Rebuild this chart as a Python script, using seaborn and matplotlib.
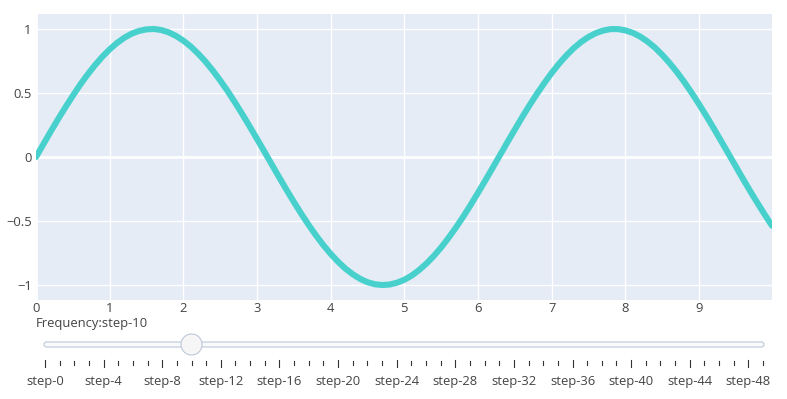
import matplotlib
matplotlib.use("Agg")
import matplotlib.pyplot as plt
import seaborn as sns
import pandas as pd
from matplotlib.patches import FancyBboxPatch, Circle

# ---- data ----
x_vals = [0.0, 0.1, 0.2, 0.3, 0.4, 0.5, 0.6, 0.7, 0.8, 0.9,
          1.0, 1.1, 1.2, 1.3, 1.4, 1.5, 1.6, 1.7, 1.8, 1.9,
          2.0, 2.1, 2.2, 2.3, 2.4, 2.5, 2.6, 2.7, 2.8, 2.9,
          3.0, 3.1, 3.2, 3.3, 3.4, 3.5, 3.6, 3.7, 3.8, 3.9,
          4.0, 4.1, 4.2, 4.3, 4.4, 4.5, 4.6, 4.7, 4.8, 4.9,
          5.0, 5.1, 5.2, 5.3, 5.4, 5.5, 5.6, 5.7, 5.8, 5.9,
          6.0, 6.1, 6.2, 6.3, 6.4, 6.5, 6.6, 6.7, 6.8, 6.9,
          7.0, 7.1, 7.2, 7.3, 7.4, 7.5, 7.6, 7.7, 7.8, 7.9,
          8.0, 8.1, 8.2, 8.3, 8.4, 8.5, 8.6, 8.7, 8.8, 8.9,
          9.0, 9.1, 9.2, 9.3, 9.4, 9.5, 9.6, 9.7, 9.8, 9.9, 9.99]
y_vals = [0.000, 0.100, 0.199, 0.296, 0.389, 0.479, 0.565, 0.644, 0.717, 0.783,
          0.841, 0.891, 0.932, 0.964, 0.985, 0.997, 1.000, 0.992, 0.974, 0.946,
          0.909, 0.863, 0.808, 0.746, 0.675, 0.598, 0.516, 0.427, 0.335, 0.239,
          0.141, 0.042, -0.058, -0.158, -0.256, -0.351, -0.443, -0.530, -0.612, -0.688,
          -0.757, -0.818, -0.872, -0.916, -0.952, -0.978, -0.994, -1.000, -0.996, -0.982,
          -0.959, -0.926, -0.883, -0.832, -0.773, -0.706, -0.631, -0.551, -0.465, -0.374,
          -0.279, -0.182, -0.083, 0.017, 0.117, 0.215, 0.312, 0.405, 0.494, 0.578,
          0.657, 0.729, 0.794, 0.851, 0.899, 0.938, 0.968, 0.988, 0.999, 0.999,
          0.989, 0.970, 0.941, 0.902, 0.855, 0.798, 0.734, 0.663, 0.585, 0.501,
          0.412, 0.319, 0.223, 0.124, 0.025, -0.075, -0.175, -0.272, -0.366, -0.458, -0.537]
x_ticks = [0, 1, 2, 3, 4, 5, 6, 7, 8, 9]
y_ticks = [-1, -0.5, 0, 0.5, 1]
y_tick_labels = ["\u22121", "\u22120.5", "0", "0.5", "1"]
step_names = [f"step-{i}" for i in range(50)]
active_step = 10
slider_prefix = "Frequency:"

plt.rcParams['font.family'] = ['Open Sans', 'DejaVu Sans']
FS = 9.4
W, H = 787, 399
fig = plt.figure(figsize=(W / 100, H / 100), dpi=100)
fig.patch.set_facecolor("white")

# main axes in pixel placement
L, R, T, B = 36, 772, 14, 300
ax = fig.add_axes([L / W, 1 - B / H, (R - L) / W, (B - T) / H])
ax.set_facecolor("#E5ECF6")
df = pd.DataFrame({"x": x_vals, "y": y_vals})
sns.lineplot(data=df, x="x", y="y", ax=ax, color="#48D1CC", linewidth=4.4,
             solid_capstyle="round", solid_joinstyle="round", zorder=5)
ax.set_xlim(0, 9.99)
ax.set_ylim(-1.117, 1.117)
ax.set_xticks(x_ticks)
ax.set_yticks(y_ticks)
ax.set_yticklabels(y_tick_labels)
ax.grid(True, color="white", linewidth=1.0, zorder=0)
ax.set_axisbelow(True)
ax.axhline(0, color="white", linewidth=2.0, zorder=1)
ax.axvline(0, color="white", linewidth=2.0, zorder=1)
for s in ax.spines.values():
    s.set_visible(False)
ax.tick_params(axis="both", length=0, labelsize=FS, labelcolor="#444444")
ax.tick_params(axis="y", pad=3)
ax.tick_params(axis="x", pad=1.5)
ax.set_xlabel("")
ax.set_ylabel("")

# slider drawn in pixel coordinates
sax = fig.add_axes([0, 0, 1, 1], zorder=-1)
sax.set_xlim(0, W)
sax.set_ylim(H, 0)
sax.axis("off")

x0, x1 = 45, 763
n = len(step_names)
dx = (x1 - x0) / (n - 1)
rail = FancyBboxPatch((x0 - 1, 342), (x1 - x0) + 2, 5,
                      boxstyle="round,pad=0,rounding_size=2.5",
                      facecolor="#F8FAFC", edgecolor="#BEC8D9", linewidth=0.8)
sax.add_patch(rail)
hx = x0 + active_step * dx
sax.add_patch(Circle((hx, 344.5), 10.5, facecolor="#F6F6F6", edgecolor="#BEC8D9",
                     linewidth=0.8, zorder=5))
for i, name in enumerate(step_names):
    xi = x0 + i * dx
    if i % 4 == 0:
        sax.plot([xi, xi], [360, 367], color="#333333", linewidth=0.8)
        sax.text(xi, 381, name, ha="center", va="center", fontsize=FS, color="#444444")
    else:
        sax.plot([xi, xi], [361, 365], color="#333333", linewidth=0.8)
sax.text(36, 323, slider_prefix + step_names[active_step], ha="left", va="center",
         fontsize=FS, color="#444444")

fig.savefig("out.png", dpi=100)
